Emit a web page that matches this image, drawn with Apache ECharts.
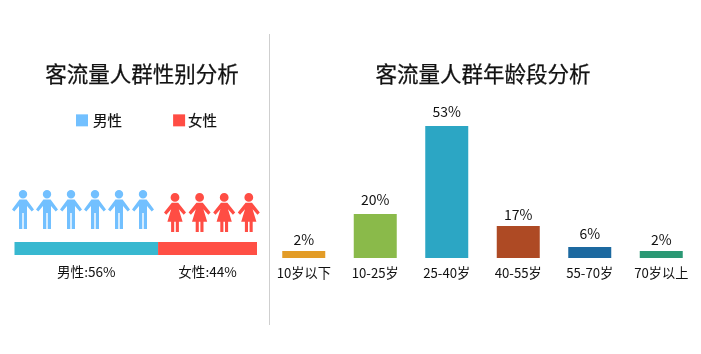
<!DOCTYPE html>
<html><head><meta charset="utf-8">
<style>html,body{margin:0;padding:0;background:#fff}#c{width:701px;height:354px}</style>
<script src="https://cdn.jsdelivr.net/npm/echarts@6/dist/echarts.min.js"></script>
</head><body><div id="c"></div>
<script>
const FONT = '"Noto Sans CJK SC","Noto Sans",sans-serif';
const titleLeft = '客流量人群性别分析';
const titleRight = '客流量人群年龄段分析';
const genderNames = ['男性', '女性'];
const genderLabels = ['男性:56%', '女性:44%'];
const maleIcons = [1, 2, 3, 4, 5, 6];
const femaleIcons = [1, 2, 3, 4];
// segment lengths as drawn in the picture (drawn share, not the printed share)
const genderBarMale = [59.2];
const genderBarFemale = [40.8];
const ageCategories = ['10岁以下', '10-25岁', '25-40岁', '40-55岁', '55-70岁', '70岁以上'];
const ageLabels = ['2%', '20%', '53%', '17%', '6%', '2%'];
// bar heights as drawn in the picture (not proportional to the printed labels)
const ageBarHeights = [7, 44, 132, 32, 11, 7];
const ageColors = ['#e39c27', '#8aba4a', '#2ca6c4', '#ae4a24', '#1c69a0', '#2b9874'];
const ageLabelGaps = [4, 7, 7, 4, 6, 4];

const manPath = 'path://M11 0A4.2 4.2 0 1 1 11 8.4A4.2 4.2 0 1 1 11 0Z' +
  'M7.4 9.6L14.6 9.6L22 19.4L19.7 21.6L15 16L15 39L11.7 39L11.7 23L10.3 23L10.3 39L7 39L7 16L2.3 21.6L0 19.4Z';
const womanPath = 'path://M11 0A4.4 4.4 0 1 1 11 8.8A4.4 4.4 0 1 1 11 0Z' +
  'M7.8 9.8L14.2 9.8L22 19.6L19.7 21.8L14.8 16.2L18.6 28.8L14.9 28.8L14.9 39L11.8 39L11.8 28.8L10.2 28.8L10.2 39L7.1 39L7.1 28.8L3.4 28.8L7.2 16.2L2.3 21.8L0 19.6Z';

const hiddenCat = (data, gridIndex) => ({
  type: 'category', data, gridIndex,
  axisLine: {show: false}, axisTick: {show: false}, axisLabel: {show: false}, splitLine: {show: false}
});
const hiddenVal = (gridIndex, min, max) => ({
  type: 'value', gridIndex, min, max,
  axisLine: {show: false}, axisTick: {show: false}, axisLabel: {show: false}, splitLine: {show: false}
});

const chart = echarts.init(document.getElementById('c'));
chart.setOption({
  animation: false,
  backgroundColor: '#fff',
  textStyle: {fontFamily: FONT},
  title: [
    {text: titleLeft, left: 137, top: 58, textAlign: 'center', textStyle: {fontSize: 21.5, fontWeight: 'normal', color: '#111', fontFamily: FONT, textBorderColor: '#111', textBorderWidth: 0.25}},
    {text: titleRight, left: 478, top: 58, textAlign: 'center', textStyle: {fontSize: 21.5, fontWeight: 'normal', color: '#111', fontFamily: FONT, textBorderColor: '#111', textBorderWidth: 0.25}}
  ],
  legend: {
    data: [
      {name: genderNames[0], icon: 'rect'},
      {name: genderNames[1], icon: 'rect', textStyle: {padding: [0, 0, 0, -2]}}
    ],
    left: 71, top: 108, itemWidth: 12, itemHeight: 12, itemGap: 51,
    textStyle: {fontSize: 14.5, color: '#111', fontFamily: FONT, textBorderColor: '#111', textBorderWidth: 0.2},
    selectedMode: false
  },
  grid: [
    {left: 11, top: 190, width: 144, height: 39},
    {left: 162.7, top: 193, width: 98.4, height: 39},
    {left: 14.5, top: 242, width: 242.5, height: 13},
    {left: 268, top: 126, width: 429, height: 132}
  ],
  xAxis: [
    hiddenCat(maleIcons, 0),
    hiddenCat(femaleIcons, 1),
    hiddenVal(2, 0, 100),
    {type: 'category', gridIndex: 3, data: ageCategories,
     axisLine: {show: false}, axisTick: {show: false},
     axisLabel: {fontSize: 13.2, color: '#111', margin: 8, interval: 0, fontFamily: FONT}}
  ],
  yAxis: [
    hiddenVal(0, 0, 1),
    hiddenVal(1, 0, 1),
    hiddenCat(['gender'], 2),
    hiddenVal(3, 0, 132)
  ],
  series: [
    {name: '男性', type: 'scatter', xAxisIndex: 0, yAxisIndex: 0, symbol: manPath, symbolSize: [22, 39],
     itemStyle: {color: '#72c0ff', opacity: 1}, data: maleIcons.map((d, i) => [i, 0.5])},
    {name: '女性', type: 'scatter', xAxisIndex: 1, yAxisIndex: 1, symbol: womanPath, symbolSize: [22, 39],
     itemStyle: {color: '#ff4d44', opacity: 1}, data: femaleIcons.map((d, i) => [i, 0.5])},
    {name: 'bar-m', type: 'bar', stack: 'g', xAxisIndex: 2, yAxisIndex: 2, barWidth: 13, data: genderBarMale,
     itemStyle: {color: '#38b8d0'},
     label: {show: true, position: 'bottom', distance: 10, formatter: genderLabels[0], fontSize: 13.6, color: '#111', fontFamily: FONT}},
    {name: 'bar-f', type: 'bar', stack: 'g', xAxisIndex: 2, yAxisIndex: 2, barWidth: 13, data: genderBarFemale,
     itemStyle: {color: '#ff4f45'},
     label: {show: true, position: 'bottom', distance: 10, formatter: genderLabels[1], fontSize: 13.6, color: '#111', fontFamily: FONT}},
    {name: 'age', type: 'bar', xAxisIndex: 3, yAxisIndex: 3, barWidth: 43,
     data: ageBarHeights.map((v, i) => ({value: v, itemStyle: {color: ageColors[i]},
       label: {distance: ageLabelGaps[i]}})),
     label: {show: true, position: 'top', fontSize: 14, color: '#111', fontFamily: FONT,
       formatter: p => ageLabels[p.dataIndex]}}
  ],
  graphic: [{type: 'line', shape: {x1: 269.5, y1: 34, x2: 269.5, y2: 325}, style: {stroke: '#cfcfcf', lineWidth: 1}, silent: true}]
});
</script></body></html>
